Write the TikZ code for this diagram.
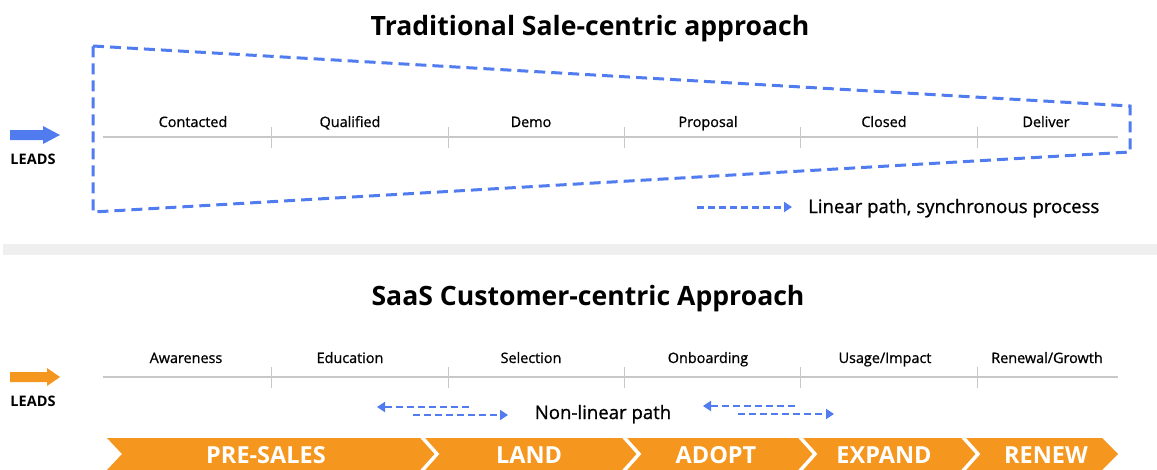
\documentclass[tikz,border=0pt]{standalone}
\usepackage{fontspec}
\setmainfont{Open Sans}
\newfontfamily\medfont{Open Sans}[FakeBold=0.9]
\usetikzlibrary{arrows.meta}
\definecolor{awsblue}{HTML}{507CF0}
\definecolor{awsorange}{HTML}{F5961E}
\definecolor{linegray}{HTML}{C8C8C8}
\definecolor{bandgray}{HTML}{EFEFEF}
\begin{document}
\begin{tikzpicture}[x=1pt,y=-1pt,
  titletext/.style={font=\bfseries\fontsize{26.6}{30}\selectfont, inner sep=0, anchor=base},
  stagetext/.style={font=\medfont\fontsize{14.4}{16}\selectfont, inner sep=0, anchor=base},
  leadstext/.style={font=\bfseries\fontsize{14.5}{16}\selectfont, inner sep=0, anchor=base},
  legendtext/.style={font=\medfont\fontsize{18.6}{21}\selectfont, inner sep=0, anchor=base},
  phasetext/.style={font=\bfseries\fontsize{23.5}{26}\selectfont, text=white, inner sep=0, anchor=base},
  timeline/.style={linegray, line width=1.3pt},
  tickline/.style={linegray, line width=1pt},
  trapline/.style={awsblue, line width=3pt, dash pattern=on 11pt off 6pt},
  legendarrow/.style={awsblue, line width=3pt, dash pattern=on 7pt off 4pt, -{Triangle[length=8pt,width=10pt]}},
  nlarrowL/.style={awsblue, line width=2.8pt, dash pattern=on 7pt off 4pt, {Triangle[length=8pt,width=10pt]}-},
  nlarrowR/.style={awsblue, line width=2.8pt, dash pattern=on 7pt off 4pt, -{Triangle[length=8pt,width=10pt]}},
  sep/.style={white, line width=3.5pt}
]
\useasboundingbox (0,0) rectangle (1157,469);
\clip (0,0) rectangle (1157,469);

% ---------- Top section ----------
\node[titletext] (t1) at (590,35) {Traditional Sale-centric approach};

\draw[trapline] (93,46) -- (1130,106) -- (1130,152) -- (93,212) -- cycle;

% blue leads arrow
\fill[awsblue] (10,130) -- (43,130) -- (43,126) -- (60,135) -- (43,144) -- (43,140) -- (10,140) -- cycle;
\node[leadstext] (leads1) at (33,164) {LEADS};

\coordinate (l1s) at (103,137);
\coordinate (l1e) at (1118,137);
\draw[timeline] (l1s) -- (l1e);
\foreach \x/\n in {271/a,448/b,624/c,800/d,977/e}{
  \coordinate (t1\n top) at (\x,127);
  \coordinate (t1\n bot) at (\x,148);
  \draw[tickline] (t1\n top) -- (t1\n bot);
}
\node[stagetext] (s1) at (193,127) {Contacted};
\node[stagetext] (s2) at (350,127) {Qualified};
\node[stagetext] (s3) at (531,127) {Demo};
\node[stagetext] (s4) at (708,127) {Proposal};
\node[stagetext] (s5) at (884,127) {Closed};
\node[stagetext] (s6) at (1046,127) {Deliver};

\coordinate (lg1) at (697,207);
\coordinate (lg2) at (792,207);
\draw[legendarrow] (lg1) -- (lg2);
\node[legendtext, anchor=base west] (lgt) at (808,213) {Linear path, synchronous process};

% separator band
\fill[bandgray] (3,244) rectangle (1157,255);

% ---------- Bottom section ----------
\node[titletext] (t2) at (588,305) {SaaS Customer-centric Approach};

\fill[awsorange] (10,372) -- (47,372) -- (47,368) -- (60,377) -- (47,386) -- (47,382) -- (10,382) -- cycle;
\node[leadstext] (leads2) at (33,406) {LEADS};

\coordinate (l2s) at (103,377);
\coordinate (l2e) at (1118,377);
\draw[timeline] (l2s) -- (l2e);
\foreach \x/\n in {271/a,448/b,624/c,800/d,977/e}{
  \coordinate (t2\n top) at (\x,367);
  \coordinate (t2\n bot) at (\x,388);
  \draw[tickline] (t2\n top) -- (t2\n bot);
}
\node[stagetext] (c1) at (186,363) {Awareness};
\node[stagetext] (c2) at (350,363) {Education};
\node[stagetext] (c3) at (531,363) {Selection};
\node[stagetext] (c4) at (708,363) {Onboarding};
\node[stagetext] (c5) at (885,363) {Usage/Impact};
\node[stagetext] (c6) at (1047,363) {Renewal/Growth};

% non-linear arrows
\coordinate (na1) at (377,407);
\coordinate (na2) at (472,407);
\coordinate (nb1) at (413,415);
\coordinate (nb2) at (508,415);
\draw[nlarrowL] (na1) -- (na2);
\draw[nlarrowR] (nb1) -- (nb2);
\node[legendtext] (nlt) at (603,419) {Non-linear path};
\coordinate (nc1) at (703,406);
\coordinate (nc2) at (798,406);
\coordinate (nd1) at (738,414);
\coordinate (nd2) at (834,414);
\draw[nlarrowL] (nc1) -- (nc2);
\draw[nlarrowR] (nd1) -- (nd2);

% chevron bar
\fill[awsorange] (107,438) -- (1102,438) -- (1118,454) -- (1102,470) -- (107,470) -- (122,454) -- cycle;
\foreach \x/\n in {420/a,622/b,798/c,961/d}{
  \coordinate (p\n 1) at (\x,435);
  \coordinate (p\n 2) at (\x+17,454);
  \coordinate (p\n 3) at (\x,473);
  \draw[sep] (p\n 1) -- (p\n 2) -- (p\n 3);
}
\node[phasetext] (ph1) at (266,463) {PRE-SALES};
\node[phasetext] (ph2) at (529,463) {LAND};
\node[phasetext] (ph3) at (716,463) {ADOPT};
\node[phasetext] (ph4) at (884,463) {EXPAND};
\node[phasetext] (ph5) at (1046,463) {RENEW};
\end{tikzpicture}
\end{document}
